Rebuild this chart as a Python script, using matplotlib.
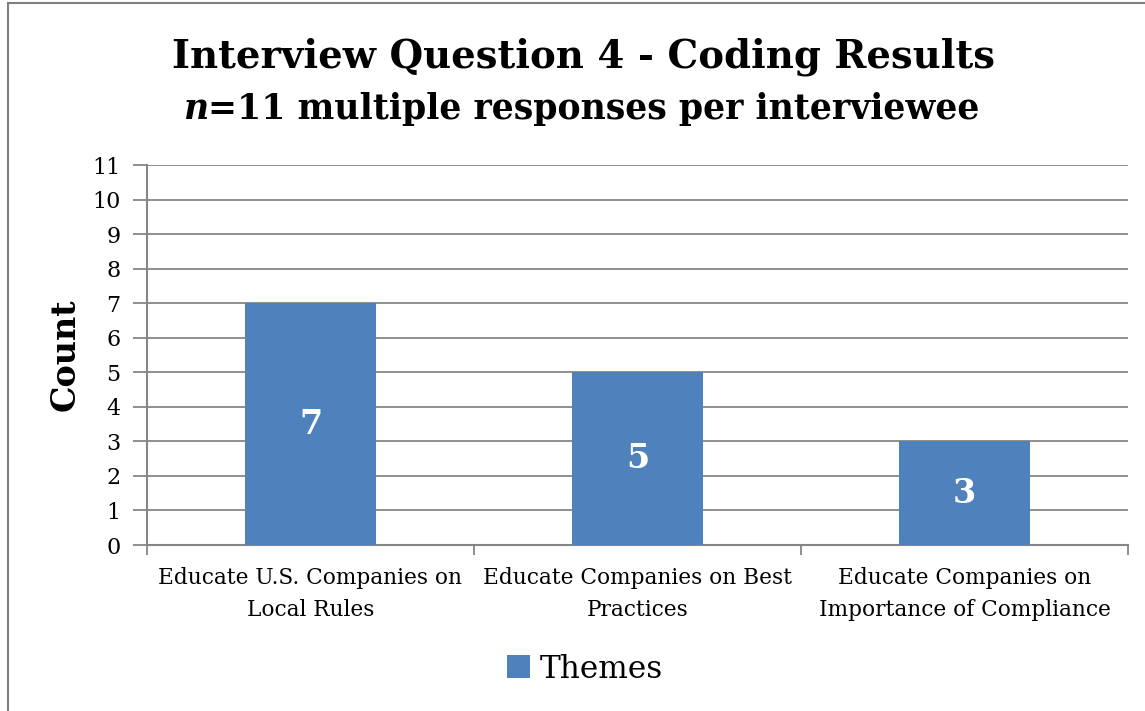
import matplotlib.pyplot as plt
from matplotlib.lines import Line2D

categories = ["Educate U.S. Companies on\nLocal Rules",
              "Educate Companies on Best\nPractices",
              "Educate Companies on\nImportance of Compliance"]
counts = [7, 5, 3]
series_name = "Themes"
y_ticks = list(range(0, 12))

bar_color = "#4F81BD"
grid_color = "#868686"
serif = ["DejaVu Serif"]

plt.rcParams['font.family'] = serif

W, H = 1145, 711
fig = plt.figure(figsize=(W / 100, H / 100), dpi=100)

# plot area in pixels: x 147..1128, y 165..545
ax = fig.add_axes([147 / W, 1 - 545 / H, (1128 - 147) / W, (545 - 165) / H])

x = list(range(len(categories)))
bars = ax.bar(x, counts, width=0.4, color=bar_color, label=series_name, zorder=3)
for b, v in zip(bars, counts):
    ax.text(b.get_x() + b.get_width() / 2, v / 2, str(v), ha="center", va="center",
            color="white", fontsize=24, fontweight="bold", zorder=4)

ax.set_xlim(-0.5, len(categories) - 0.5)
ax.set_ylim(0, 11)
ax.set_yticks(y_ticks)
ax.tick_params(axis="y", length=10, width=1.3, color=grid_color, labelsize=16, pad=9)
ax.yaxis.grid(True, color=grid_color, linewidth=1.3, zorder=0)

ax.set_xticks(x)
ax.set_xticklabels(categories, fontsize=15.6, linespacing=1.55)
ax.set_xticks([i - 0.5 for i in range(len(categories) + 1)], minor=True)
ax.tick_params(axis="x", which="major", length=0, pad=16)
ax.tick_params(axis="x", which="minor", length=7, width=1.3, color=grid_color)

for side in ("top", "right"):
    ax.spines[side].set_visible(False)
for side in ("left", "bottom"):
    ax.spines[side].set_color(grid_color)
    ax.spines[side].set_linewidth(1.5)

fig.text(65 / W, 1 - 355 / H, "Count", rotation=90, ha="center", va="center",
         fontsize=24, fontweight="bold")

# title lines
fig.text(583 / W, 1 - 57 / H, "Interview Question 4 - Coding Results",
         ha="center", va="center", fontsize=27.8, fontweight="bold")
sub = fig.text(594 / W, 1 - 109 / H, "=11 multiple responses per interviewee",
               ha="center", va="center", fontsize=25, fontweight="bold")
fig.canvas.draw()
bb = sub.get_window_extent()
fig.text(bb.x0 / W, 1 - 109 / H, "n", ha="right", va="center",
         fontsize=25, fontweight="bold", style="italic")

fig.legend(handles=[bars], labels=[series_name], loc="center",
           bbox_to_anchor=(585 / W, 1 - 669 / H), frameon=False,
           fontsize=22.5, handlelength=0.75, handleheight=0.75, handletextpad=0.3)

# chart frame
fig.add_artist(Line2D([8 / W, 8 / W], [0, 1 - 3 / H], color="#7F7F7F", lw=1.5))
fig.add_artist(Line2D([8 / W, 1], [1 - 3 / H, 1 - 3 / H], color="#7F7F7F", lw=1.5))

fig.savefig("out.png", dpi=100, facecolor="white")
